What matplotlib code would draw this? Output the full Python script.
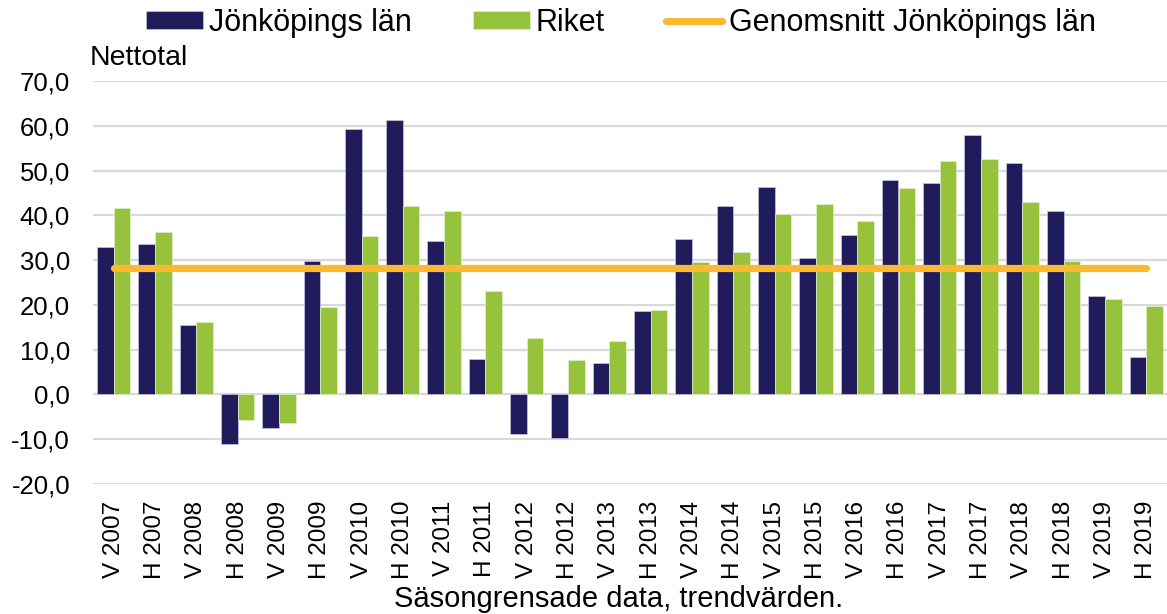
import matplotlib
matplotlib.use("Agg")
import matplotlib.pyplot as plt
import numpy as np
from matplotlib.ticker import FuncFormatter

categories = ["V 2007", "H 2007", "V 2008", "H 2008", "V 2009", "H 2009", "V 2010", "H 2010",
              "V 2011", "H 2011", "V 2012", "H 2012", "V 2013", "H 2013", "V 2014", "H 2014",
              "V 2015", "H 2015", "V 2016", "H 2016", "V 2017", "H 2017", "V 2018", "H 2018",
              "V 2019", "H 2019"]
jonkoping = [33.0, 33.6, 15.4, -11.0, -7.6, 29.8, 59.2, 61.3, 34.2, 7.9, -8.9, -9.8, 7.0, 18.6,
             34.7, 42.0, 46.3, 30.4, 35.7, 47.9, 47.3, 57.9, 51.6, 41.0, 22.0, 8.3]
riket = [41.6, 36.3, 16.1, -5.7, -6.3, 19.5, 35.4, 42.0, 41.0, 23.2, 12.6, 7.6, 12.0, 18.9,
         29.5, 31.7, 40.4, 42.6, 38.8, 46.1, 52.2, 52.6, 42.9, 29.8, 21.4, 19.8]
mean_jonkoping = 28.2

plt.rcParams['font.family'] = ['Liberation Sans', 'DejaVu Sans']

fig = plt.figure(figsize=(11.67, 6.14), dpi=100)
ax = fig.add_axes([93/1167, 130/614, 1 - 93/1167, (484-81)/614])

x = np.arange(len(categories))
w = 0.404
b1 = ax.bar(x - w/2, jonkoping, width=w, color='#201B5B', edgecolor='#c8c6e0', linewidth=0.5,
            label='Jönköpings län', zorder=3)
b2 = ax.bar(x + w/2, riket, width=w, color='#97C23C', edgecolor='#e4f0cf', linewidth=0.5,
            label='Riket', zorder=3)
l1, = ax.plot([x[0], x[-1]], [mean_jonkoping, mean_jonkoping], color='#FBB933', linewidth=5.2,
              solid_capstyle='round', label='Genomsnitt Jönköpings län', zorder=4)

ax.set_xlim(-0.5, len(categories) - 0.5)
ax.set_ylim(-20, 70)
ax.set_yticks(np.arange(-20, 71, 10))
ax.yaxis.set_major_formatter(FuncFormatter(lambda v, p: f"{v:.1f}".replace('.', ',')))
ax.set_xticks(x)
ax.set_xticklabels(categories, rotation=90, ha='center', va='top')
ax.tick_params(axis='both', length=0, colors='#000000')
ax.tick_params(axis='y', pad=16.5, labelsize=18.5)
ax.tick_params(axis='x', pad=12, labelsize=17.5)
ax.grid(axis='y', color='#D9D9D9', linewidth=1.6, zorder=0)
ax.set_axisbelow(True)
for s in ax.spines.values():
    s.set_visible(False)

fig.text(90/1167, 1 - 71/614, 'Nettotal', fontsize=20.5, ha='left', va='bottom')
fig.text(619/1167, 1/614, 'Säsongrensade data, trendvärden.', fontsize=21, ha='center', va='bottom')

fig.legend([b1, b2, l1], ['Jönköpings län', 'Riket', 'Genomsnitt Jönköpings län'],
           loc='center', bbox_to_anchor=(621/1167, 1 - 23/614), ncol=3,
           frameon=False, fontsize=22, handlelength=1.85, handleheight=0.5,
           handletextpad=0.2, columnspacing=2.0, borderaxespad=0)

fig.savefig('out.png', dpi=100)
